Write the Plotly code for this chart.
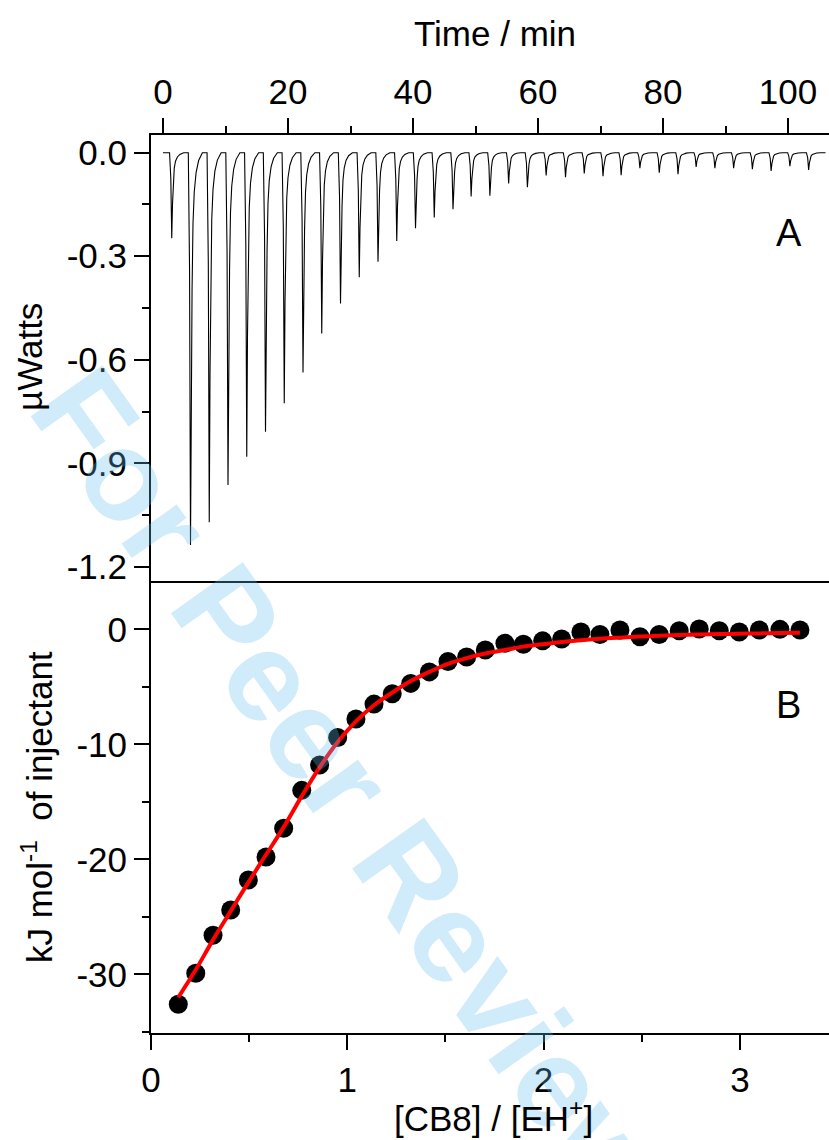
import plotly.graph_objects as go

# ---------------- Panel A: raw thermogram ----------------
inj_time = [1.4, 4.4, 7.4, 10.4, 13.4, 16.4, 19.4, 22.4, 25.4, 28.4, 31.4, 34.4,
            37.4, 40.4, 43.4, 46.4, 49.3, 52.3, 55.3, 58.3, 61.3, 64.4, 67.4, 70.4,
            73.3, 76.3, 79.4, 82.4, 85.3, 88.3, 91.3, 94.3, 97.3, 100.3, 103.3]
peak_depth = [-0.248, -1.137, -1.071, -0.963, -0.881, -0.809, -0.726, -0.637,
              -0.524, -0.437, -0.361, -0.316, -0.256, -0.219, -0.188, -0.164,
              -0.127, -0.125, -0.089, -0.100, -0.066, -0.071, -0.060, -0.068,
              -0.065, -0.045, -0.058, -0.062, -0.041, -0.045, -0.045, -0.048,
              -0.053, -0.039, -0.050]
# shape of one injection peak (offset in min from peak minimum, fraction of depth)
shape_offset = [-0.35, -0.15, 0.0, 0.12, 0.25, 0.4, 0.6, 0.9, 1.3, 1.9]
shape_frac = [0.0, 0.3, 1.0, 0.6, 0.35, 0.18, 0.1, 0.05, 0.02, 0.0]
trace_start, trace_end = 0.0, 106.0

# ---------------- Panel B: integrated heats and fit ----------------
ratio = [0.139, 0.228, 0.316, 0.406, 0.496, 0.586, 0.676, 0.768, 0.859, 0.951,
         1.044, 1.136, 1.229, 1.323, 1.418, 1.513, 1.608, 1.703, 1.803, 1.897,
         1.995, 2.092, 2.190, 2.287, 2.389, 2.491, 2.589, 2.691, 2.793, 2.895,
         2.997, 3.099, 3.204, 3.306]
heat = [-32.6, -29.9, -26.6, -24.4, -21.8, -19.8, -17.3, -14.0, -11.8, -9.4,
        -7.8, -6.5, -5.6, -4.7, -3.7, -2.8, -2.4, -1.8, -1.2, -1.3,
        -1.0, -0.84, -0.23, -0.44, -0.06, -0.64, -0.44, -0.12, 0.03, -0.12,
        -0.23, -0.06, 0.0, -0.06]
fit = [-32.0, -29.6, -27.0, -24.5, -22.0, -19.6, -17.2, -14.5, -12.0, -9.8,
       -8.0, -6.6, -5.5, -4.5, -3.7, -3.0, -2.5, -2.1, -1.8, -1.5,
       -1.3, -1.1, -0.95, -0.82, -0.72, -0.63, -0.56, -0.5, -0.45, -0.41,
       -0.38, -0.35, -0.32, -0.3]

top_x_ticks = [0, 20, 40, 60, 80, 100]
top_x_minor = [10, 30, 50, 70, 90]
top_y_ticks = [0.0, -0.3, -0.6, -0.9, -1.2]
top_y_labels = ["0.0", "-0.3", "-0.6", "-0.9", "-1.2"]
top_y_minor = [-0.15, -0.45, -0.75, -1.05]
bot_x_ticks = [0, 1, 2, 3]
bot_x_minor = [0.5, 1.5, 2.5]
bot_y_ticks = [0, -10, -20, -30]
bot_y_labels = ["0", "-10", "-20", "-30"]
bot_y_minor = [-5, -15, -25, -35]

# build thermogram polyline from the read values
tt = [trace_start]
yy = [0.0]
for ti, d in zip(inj_time, peak_depth):
    for off, fr in zip(shape_offset, shape_frac):
        tt.append(ti + off)
        yy.append(d * fr)
tt.append(trace_end)
yy.append(0.0)

FONT = "Liberation Sans, Arial, sans-serif"
TICK_FS = 35
TITLE_FS = 35

fig = go.Figure()
fig.add_trace(go.Scatter(x=tt, y=yy, xaxis="x2", yaxis="y2", mode="lines",
                         line=dict(color="black", width=1.1), showlegend=False))
fig.add_trace(go.Scatter(x=ratio, y=heat, xaxis="x", yaxis="y", mode="markers",
                         marker=dict(color="black", size=19), showlegend=False))
fig.add_trace(go.Scatter(x=ratio, y=fit, xaxis="x", yaxis="y", mode="lines",
                         line=dict(color="#ff0000", width=4, shape="spline"),
                         showlegend=False))

axis_common = dict(showline=True, linecolor="black", linewidth=2, ticks="outside",
                   ticklen=15, tickwidth=2, tickcolor="black", showgrid=False,
                   zeroline=False, tickfont=dict(family=FONT, size=TICK_FS, color="black"))

split = 0.5011
fig.update_layout(
    width=829, height=1140,
    margin=dict(l=151, r=0, t=135, b=107),
    paper_bgcolor="white", plot_bgcolor="white",
    font=dict(family=FONT, color="black"),
    xaxis=dict(domain=[0, 1], anchor="y", range=[0, 3.454], mirror=True,
               tickmode="array", tickvals=bot_x_ticks,
               minor=dict(tickmode="array", tickvals=bot_x_minor, ticks="outside",
                          ticklen=7, tickwidth=2, tickcolor="black"),
               **axis_common),
    yaxis=dict(domain=[0, split], anchor="x", range=[-35.1, 4.03],
               tickmode="array", tickvals=bot_y_ticks, ticktext=bot_y_labels,
               minor=dict(tickmode="array", tickvals=bot_y_minor, ticks="outside",
                          ticklen=7, tickwidth=2, tickcolor="black"),
               **axis_common),
    xaxis2=dict(domain=[0, 1], anchor="y2", side="top", range=[-1.92, 106.56],
                tickmode="array", tickvals=top_x_ticks,
                minor=dict(tickmode="array", tickvals=top_x_minor, ticks="outside",
                           ticklen=7, tickwidth=2, tickcolor="black"),
                **axis_common),
    yaxis2=dict(domain=[split, 1], anchor="x2", range=[-1.247, 0.0513],
                tickmode="array", tickvals=top_y_ticks, ticktext=top_y_labels,
                minor=dict(tickmode="array", tickvals=top_y_minor, ticks="outside",
                           ticklen=7, tickwidth=2, tickcolor="black"),
                **axis_common),
)

def ann(text, x, y, size, angle=0, color="black", weight="normal"):
    fig.add_annotation(text=text, x=x, y=y, xref="paper", yref="paper",
                       xanchor="center", yanchor="middle", showarrow=False,
                       textangle=angle,
                       font=dict(family=FONT, size=size, color=color, weight=weight))

# watermark
ann("For Peer Review", 0.295, 0.2717, 128, angle=54.6,
    color="rgba(100,190,240,0.3)", weight="bold")

ann("Time / min", 0.507, 1.1125, TITLE_FS)
ann("[CB8] / [EH<sup>+</sup>]", 0.505, -0.092, TITLE_FS)
ann("µWatts", -0.1785, 0.7528, TITLE_FS, angle=-90)
ann("kJ mol<sup>-1</sup>  of injectant", -0.168, 0.2517, TITLE_FS, angle=-90)
ann("A", 0.941, 0.891, 38)
ann("B", 0.941, 0.365, 38)

fig.write_html("out.html")
